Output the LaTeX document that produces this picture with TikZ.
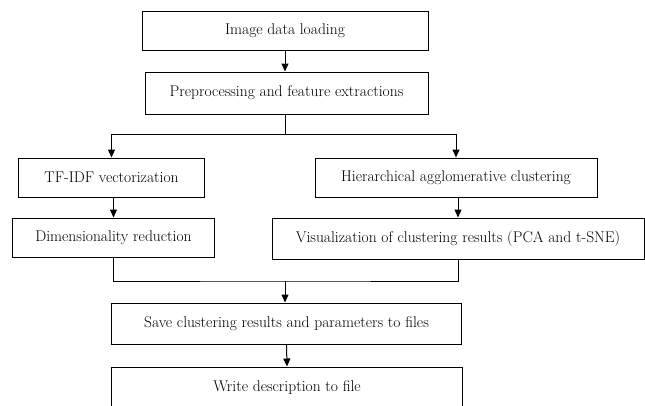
\documentclass[tikz,border=0pt]{standalone}
\usepackage{tikz}
\usetikzlibrary{arrows.meta}

\begin{document}
\begin{tikzpicture}[x=1bp, y=-1bp,
		box/.style={draw, line width=1bp, inner sep=0pt, font=\fontsize{15.6}{18}\selectfont},
		flow/.style={line width=1bp, -{Triangle[length=8bp,width=7bp]}}]
			%%%%% START %%%%%
			\useasboundingbox (0, 0) rectangle (645, 405);
			\clip (0, 0) rectangle (645, 405);
			
			\node[box, minimum width=286bp, minimum height=39bp] (load) at (285, 30.5) {Image data loading};
			\node[box, minimum width=283bp, minimum height=42bp] (prep) at (286.5, 93) {Preprocessing and feature extractions};
			
			\node[box, minimum width=185bp, minimum height=39bp] (tfidf) at (111.5, 177.5) {TF-IDF vectorization};
			\node[box, minimum width=282bp, minimum height=39bp] (hac) at (456, 177.5) {Hierarchical agglomerative clustering};
			
			\node[box, minimum width=201bp, minimum height=39bp] (dimred) at (113.5, 237.5) {Dimensionality reduction};
			\node[box, minimum width=372bp, minimum height=41bp] (vis) at (458, 238.5) {Visualization of clustering results (PCA and t-SNE)};
			
			\node[box, minimum width=349bp, minimum height=41bp] (save) at (286.5, 323.5) {Save clustering results and parameters to files};
			\node[box, minimum width=350bp, minimum height=42bp] (desc) at (287, 388) {Write description to file};
			
			\coordinate (split) at (285, 134.5);
			\coordinate (join) at (285, 281);
			
			\draw[flow] (load.south -| split) -- (prep.north -| split);
			\draw[line width=1bp] (prep.south -| split) -- (split);
			\draw[flow] (split) -| (tfidf.north);
			\draw[flow] (split) -| (hac.north);
			
			\draw[flow] (tfidf.south -| dimred.north) -- (dimred.north);
			\draw[flow] (hac.south -| vis.north) -- (vis.north);
			
			\draw[line width=1bp] (dimred.south) |- (join) -| (vis.south);
			\draw[flow] (join) -- (save.north -| join);
			\draw[flow] (save.south) -- (desc.north);
			
			%%%%% END %%%%%
		\end{tikzpicture}
\end{document}
